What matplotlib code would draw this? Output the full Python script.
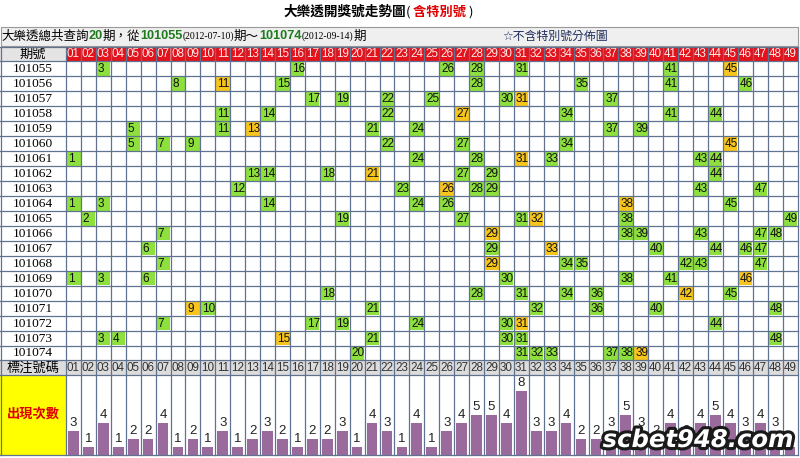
import matplotlib
matplotlib.use('Agg')
import matplotlib.pyplot as plt
from matplotlib.patches import Rectangle
import matplotlib.patheffects as pe

plt.rcParams['font.family'] = ['Noto Sans CJK TC', 'DejaVu Sans']

# ---- data ----
periods = ['101055', '101056', '101057', '101058', '101059', '101060', '101061',
           '101062', '101063', '101064', '101065', '101066', '101067', '101068',
           '101069', '101070', '101071', '101072', '101073', '101074']
draws = [
    [3, 16, 26, 28, 31, 41, 45],
    [8, 11, 15, 28, 35, 41, 46],
    [17, 19, 22, 25, 30, 31, 37],
    [11, 14, 22, 27, 34, 41, 44],
    [5, 11, 13, 21, 24, 37, 39],
    [5, 7, 9, 22, 27, 34, 45],
    [1, 24, 28, 31, 33, 43, 44],
    [13, 14, 18, 21, 27, 29, 44],
    [12, 23, 26, 28, 29, 43, 47],
    [1, 3, 14, 24, 26, 38, 45],
    [2, 19, 27, 31, 32, 38, 49],
    [7, 29, 38, 39, 43, 47, 48],
    [6, 29, 33, 40, 44, 46, 47],
    [7, 29, 34, 35, 42, 43, 47],
    [1, 3, 6, 30, 38, 41, 46],
    [18, 28, 31, 34, 36, 42, 45],
    [9, 10, 21, 32, 36, 40, 48],
    [7, 17, 19, 24, 30, 31, 44],
    [3, 4, 15, 21, 30, 31, 48],
    [20, 31, 32, 33, 37, 38, 39],
]
specials = [45, 11, 31, 27, 13, 45, 31, 21, 26, 38, 32, 29, 33, 29, 46, 42, 9, 31, 15, 39]
numbers = list(range(1, 50))
counts = [3, 1, 4, 1, 2, 2, 4, 1, 2, 1, 3, 1, 2, 3, 2, 1, 2, 2, 3, 1, 4, 3, 1, 4, 1,
          3, 4, 5, 5, 4, 8, 3, 3, 4, 2, 2, 3, 5, 3, 2, 4, 2, 4, 5, 4, 3, 4, 3, 1]
n_periods = 20
first_date = '2012-07-10'
last_date = '2012-09-14'

# ---- layout (pixels) ----
W, H = 800, 458
LABEL_W = 66
CW = (797.5 - LABEL_W) / 49
RH = 14.95
HEAD_TOP = 46.5
ROW_TOP = HEAD_TOP + RH
MARK_TOP = ROW_TOP + len(periods) * RH
BAR_TOP = MARK_TOP + RH
BAR_BOT = 455.0
RIGHT = LABEL_W + 49 * CW

GRID = '#5f7290'
RED = '#e3121b'
GREEN = '#8ee03c'
YELLOW = '#f7c51c'
PURPLE = '#9a6a9c'

fig = plt.figure(figsize=(W / 100, H / 100), dpi=100)
ax = fig.add_axes([0, 0, 1, 1])
ax.set_xlim(0, W)
ax.set_ylim(H, 0)
ax.axis('off')
renderer = fig.canvas.get_renderer()


def col_x(n):
    return LABEL_W + (n - 1) * CW


def put_pieces(x, y, pieces):
    for s, kw in pieces:
        t = ax.text(x, y, s, ha='left', va='center', **kw)
        x += t.get_window_extent(renderer).width
    return x


# title
put_pieces(283, 12, [
    ('大樂透開獎號走勢圖', dict(fontsize=9.8, fontweight='bold', color='black')),
    ('(', dict(fontsize=9.5, color='black')),
    (' 含特別號', dict(fontsize=9.5, fontweight='bold', color='#e00000')),
    (' )', dict(fontsize=9.5, color='black')),
])

# info row
ax.add_patch(Rectangle((0.5, 27), RIGHT - 0.5, HEAD_TOP - 27.5, facecolor='#efefef',
                       edgecolor='#9a9a9a', lw=0.8))
green_txt = dict(fontsize=9.2, fontweight='bold', color='#1d7a1d', family='Liberation Sans')
date_txt = dict(fontsize=7.0, color='black', family='Liberation Serif')
put_pieces(1, 36, [
    ('大樂透總共查詢', dict(fontsize=9, color='black')),
    (str(n_periods), green_txt),
    ('期，從', dict(fontsize=9, color='black')),
    (periods[0], green_txt),
    ('(' + first_date + ')', date_txt),
    ('期～', dict(fontsize=9, color='black')),
    (periods[-1], green_txt),
    ('(' + last_date + ')', date_txt),
    ('期', dict(fontsize=9, color='black')),
])
ax.text(555, 36, '☆不含特別號分佈圖', ha='center', va='center', fontsize=8.6,
        color='#1f2d5c', family=['DejaVu Sans', 'Noto Sans CJK TC'])

# header row
ax.add_patch(Rectangle((0, HEAD_TOP), LABEL_W, RH, facecolor='#e4e4e4', edgecolor='none'))
ax.text(LABEL_W / 2, HEAD_TOP + RH / 2, '期號', ha='center', va='center', fontsize=9.5)
for n in numbers:
    ax.add_patch(Rectangle((col_x(n), HEAD_TOP), CW, RH, facecolor=RED,
                           edgecolor='#f06060', lw=0.4))
    ax.text(col_x(n) + CW / 2, HEAD_TOP + RH / 2, f'{n:02d}', ha='center', va='center',
            fontsize=8.4, color='#ffe8e8', family='Liberation Sans')

# draw rows
for r, (per, nums, sp) in enumerate(zip(periods, draws, specials)):
    top = ROW_TOP + r * RH
    ax.text(LABEL_W / 2, top + RH / 2 + 0.5, per, ha='center', va='center',
            fontsize=9.6, family='Liberation Serif')
    for n in nums:
        ax.add_patch(Rectangle((col_x(n) + 0.8, top + 0.8), CW - 1.2, RH - 1.2,
                               facecolor=YELLOW if n == sp else GREEN, edgecolor='none'))
        ax.text(col_x(n) + 1.8, top + RH / 2 + 0.5, str(n), ha='left', va='center',
                fontsize=8.5, family='Liberation Sans', color='#111111')

# marker row
ax.add_patch(Rectangle((0, MARK_TOP), RIGHT, RH, facecolor='#dcdcdc', edgecolor='none'))
ax.text(LABEL_W / 2, MARK_TOP + RH / 2, '標注號碼', ha='center', va='center', fontsize=9.5)
for n in numbers:
    ax.text(col_x(n) + CW / 2, MARK_TOP + RH / 2 + 0.5, f'{n:02d}', ha='center',
            va='center', fontsize=8.4, family='Liberation Sans', color='#333333')

# count area label
ax.add_patch(Rectangle((0, BAR_TOP), LABEL_W, BAR_BOT - BAR_TOP, facecolor='#ffff00',
                       edgecolor='none'))
ax.text(LABEL_W / 2, BAR_TOP + 38, '出現次數', ha='center', va='center', fontsize=9.5,
        fontweight='bold', color='#e00000')

# grid lines
for k in range(50):
    x = col_x(k + 1)
    ax.plot([x, x], [HEAD_TOP, BAR_BOT], color=GRID, lw=0.9, zorder=3)
ax.plot([0.5, 0.5], [HEAD_TOP, BAR_BOT], color=GRID, lw=0.9, zorder=3)
for r in range(len(periods) + 3):
    y = HEAD_TOP + r * RH
    ax.plot([0, RIGHT], [y, y], color=GRID, lw=0.9, zorder=3)
ax.plot([0, RIGHT], [BAR_BOT, BAR_BOT], color=GRID, lw=0.9, zorder=3)

# bars
bax = fig.add_axes([LABEL_W / W, (H - BAR_BOT) / H, 49 * CW / W, (BAR_BOT - BAR_TOP) / H])
bax.set_xlim(0.5, 49.5)
bax.set_ylim(0, (BAR_BOT - BAR_TOP) / 8.0)
bax.axis('off')
bax.patch.set_alpha(0)
bax.bar(numbers, counts, width=0.72, color=PURPLE, zorder=2)
for n, c in zip(numbers, counts):
    bax.text(n, c + 0.3, str(c), ha='center', va='bottom', fontsize=9.5,
             family='Liberation Sans', color='#222222')

# watermark
ax.text(793, 440, 'scbet948.com', ha='right', va='center', fontsize=17.5,
        fontweight='heavy', fontstyle='italic', family='DejaVu Sans', color='white',
        zorder=10, path_effects=[pe.withStroke(linewidth=4.5, foreground='#1a1a1a')])
ax.set_zorder(bax.get_zorder() + 1)
ax.patch.set_alpha(0)

fig.savefig('out.png', dpi=100)
